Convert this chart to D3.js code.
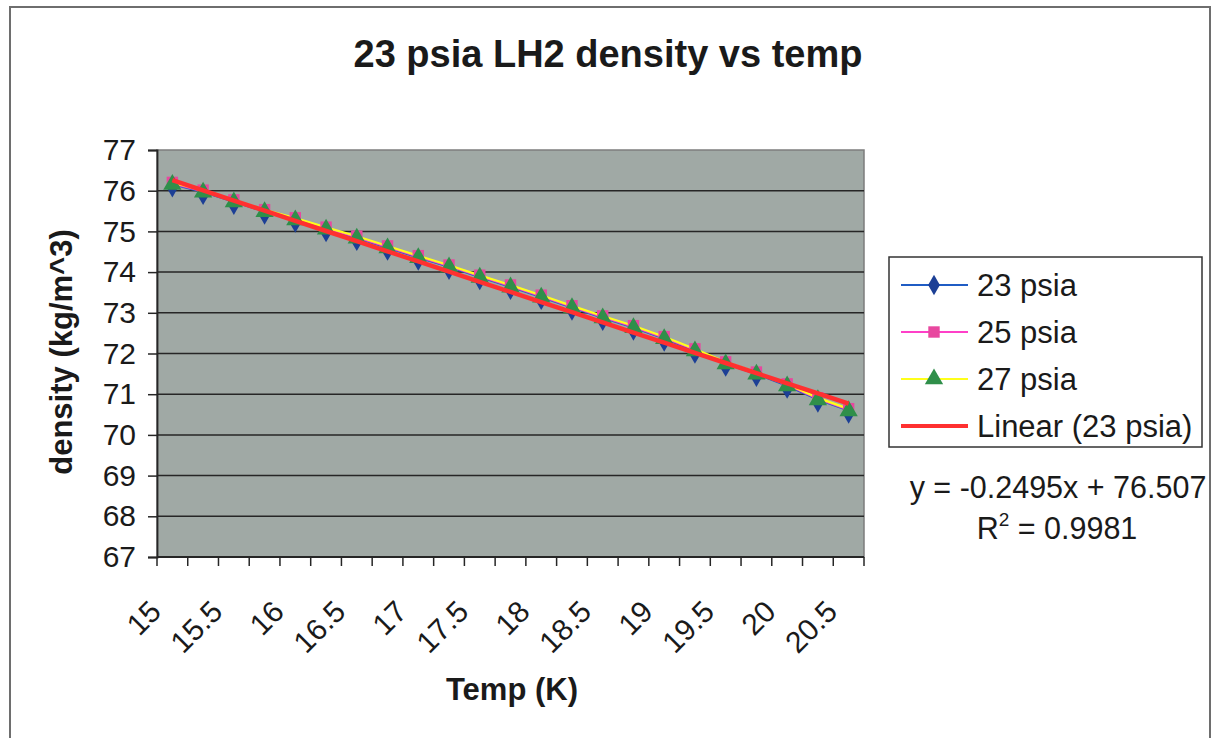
<!DOCTYPE html>
<html>
<head>
<meta charset="utf-8">
<script src="https://cdn.jsdelivr.net/npm/d3@7"></script>
<style>
  html, body { margin: 0; padding: 0; background: #fff; }
  svg { display: block; font-family: "Liberation Sans", Arial, sans-serif; }
</style>
</head>
<body>
<svg id="chart" width="1216" height="738"></svg>
<script>
// Temperatures (K) on the category axis
const temps = [15, 15.25, 15.5, 15.75, 16, 16.25, 16.5, 16.75, 17, 17.25, 17.5, 17.75,
               18, 18.25, 18.5, 18.75, 19, 19.25, 19.5, 19.75, 20, 20.25, 20.5];
// Tick labels shown along the x axis
const xTickLabels = ["15", "15.5", "16", "16.5", "17", "17.5", "18", "18.5", "19", "19.5", "20", "20.5"];
// Density (kg/m^3) at each temperature
const psia23 = [76.16, 75.97, 75.73, 75.49, 75.29, 75.06, 74.84, 74.60, 74.36, 74.13, 73.88, 73.64,
                73.39, 73.13, 72.88, 72.64, 72.37, 72.07, 71.75, 71.50, 71.21, 70.87, 70.60];
const psia25 = [76.18, 75.99, 75.75, 75.51, 75.31, 75.08, 74.86, 74.62, 74.38, 74.15, 73.90, 73.66,
                73.41, 73.15, 72.90, 72.66, 72.39, 72.09, 71.77, 71.52, 71.23, 70.89, 70.62];
const psia27 = [76.20, 76.01, 75.77, 75.53, 75.33, 75.10, 74.88, 74.64, 74.40, 74.17, 73.92, 73.68,
                73.43, 73.17, 72.92, 72.68, 72.41, 72.11, 71.79, 71.54, 71.25, 70.91, 70.64];
// Linear trendline of the 23 psia series (x = point index 1..n)
const trendSlope = -0.2495;
const trendIntercept = 76.507;
const trendR2 = 0.9981;
const yTicks = [67, 68, 69, 70, 71, 72, 73, 74, 75, 76, 77];

const seriesNames = ["23 psia", "25 psia", "27 psia"];
const seriesValues = [psia23, psia25, psia27];

const svg = d3.select("#chart");

// outer chart frame
svg.append("rect").attr("x", 10).attr("y", 7).attr("width", 1200).attr("height", 740)
  .attr("fill", "#fff").attr("stroke", "#6e6e6e").attr("stroke-width", 2);

const plot = { left: 157, right: 864, top: 150, bottom: 557 };

const x = d3.scaleBand().domain(temps).range([plot.left, plot.right]).padding(0);
const cx = t => x(t) + x.bandwidth() / 2;
const y = d3.scaleLinear().domain([67, 77]).range([plot.bottom, plot.top]);

// plot area
svg.append("rect").attr("x", plot.left).attr("y", plot.top)
  .attr("width", plot.right - plot.left).attr("height", plot.bottom - plot.top)
  .attr("fill", "#a0a9a5").attr("stroke", "#7d7d7d").attr("stroke-width", 1.5);

// horizontal gridlines
svg.append("g").selectAll("line").data(yTicks.slice(1, -1)).join("line")
  .attr("x1", plot.left).attr("x2", plot.right)
  .attr("y1", d => y(d)).attr("y2", d => y(d))
  .attr("stroke", "#262626").attr("stroke-width", 1.5);

// y axis
const yAxis = svg.append("g").attr("transform", `translate(${plot.left},0)`)
  .call(d3.axisLeft(y).tickValues(yTicks).tickSize(9).tickPadding(12).tickFormat(d3.format("d")));
yAxis.select(".domain").attr("stroke", "#262626").attr("stroke-width", 1.8);
yAxis.selectAll(".tick line").attr("stroke", "#262626").attr("stroke-width", 1.5);
yAxis.selectAll(".tick text").attr("font-size", 30).attr("fill", "#1a1a1a")
  .attr("font-family", "Liberation Sans, Arial, sans-serif");

// x axis line and category boundary ticks
const boundaries = temps.map(t => x(t)).concat([plot.right]);
svg.append("line").attr("x1", plot.left).attr("x2", plot.right)
  .attr("y1", plot.bottom).attr("y2", plot.bottom)
  .attr("stroke", "#262626").attr("stroke-width", 1.8);
svg.append("g").selectAll("line").data(boundaries).join("line")
  .attr("x1", d => d).attr("x2", d => d)
  .attr("y1", plot.bottom).attr("y2", plot.bottom + 9)
  .attr("stroke", "#262626").attr("stroke-width", 1.5);

// rotated x tick labels
svg.append("g").selectAll("text").data(temps.filter(t => xTickLabels.includes(String(t)))).join("text")
  .attr("transform", t => `translate(${cx(t) - 17},${plot.bottom + 49}) rotate(-45)`)
  .attr("text-anchor", "end").attr("dominant-baseline", "central")
  .attr("font-size", 30).attr("fill", "#1a1a1a")
  .text(t => String(t));

// series lines
const colors = {
  line: ["#1f5cc4", "#ff40c8", "#ffff1a"],
  marker: ["#1c3f95", "#e8479f", "#2f8f4a"]
};
seriesValues.forEach((vals, s) => {
  svg.append("path")
    .datum(vals)
    .attr("fill", "none").attr("stroke", colors.line[s]).attr("stroke-width", 2.2)
    .attr("d", d3.line().x((d, i) => cx(temps[i])).y(d => y(d)));
});

// markers: diamond, square, triangle
const markerShapes = [
  d3.symbol().type(d3.symbolDiamond).size(120),
  d3.symbol().type(d3.symbolSquare).size(130),
  d3.symbol().type(d3.symbolTriangle).size(145)
];
const markerOffset = [3, -1, 2];
seriesValues.forEach((vals, s) => {
  svg.append("g").selectAll("path").data(vals).join("path")
    .attr("transform", (d, i) => `translate(${cx(temps[i])},${y(d) + markerOffset[s]})`)
    .attr("d", markerShapes[s]())
    .attr("fill", colors.marker[s]);
});

// trendline on top
const trendIdx = d3.range(1, temps.length + 1);
svg.append("path").datum(trendIdx)
  .attr("fill", "none").attr("stroke", "#ff3030").attr("stroke-width", 4.5)
  .attr("d", d3.line().x(i => cx(temps[i - 1])).y(i => y(trendSlope * i + trendIntercept)));

// title
svg.append("text").attr("x", 608).attr("y", 67).attr("text-anchor", "middle")
  .attr("font-size", 38).attr("font-weight", "bold").attr("fill", "#1a1a1a")
  .text("23 psia LH2 density vs temp");

// axis titles
svg.append("text").attr("transform", "translate(72,352) rotate(-90)").attr("text-anchor", "middle")
  .attr("font-size", 31).attr("font-weight", "bold").attr("fill", "#1a1a1a")
  .text("density (kg/m^3)");
svg.append("text").attr("x", 512).attr("y", 700).attr("text-anchor", "middle")
  .attr("font-size", 31).attr("font-weight", "bold").attr("fill", "#1a1a1a")
  .text("Temp (K)");

// legend
const legend = svg.append("g");
legend.append("rect").attr("x", 889).attr("y", 257).attr("width", 313).attr("height", 190)
  .attr("fill", "#fff").attr("stroke", "#333").attr("stroke-width", 1.5);
const legendRows = [285, 332, 379, 426];
seriesNames.forEach((name, s) => {
  const ly = legendRows[s];
  legend.append("line").attr("x1", 901).attr("x2", 968).attr("y1", ly).attr("y2", ly)
    .attr("stroke", colors.line[s]).attr("stroke-width", 2.2);
  legend.append("path").attr("transform", `translate(934,${ly})`)
    .attr("d", markerShapes[s]()).attr("fill", colors.marker[s]);
  legend.append("text").attr("x", 977).attr("y", ly).attr("dominant-baseline", "central")
    .attr("font-size", 31).attr("fill", "#1a1a1a").text(name);
});
legend.append("line").attr("x1", 901).attr("x2", 968).attr("y1", legendRows[3]).attr("y2", legendRows[3])
  .attr("stroke", "#ff3030").attr("stroke-width", 4);
legend.append("text").attr("x", 977).attr("y", legendRows[3]).attr("dominant-baseline", "central")
  .attr("font-size", 31).attr("fill", "#1a1a1a").text("Linear (23 psia)");

// trendline equation
svg.append("text").attr("x", 1058).attr("y", 498).attr("text-anchor", "middle")
  .attr("font-size", 30.5).attr("fill", "#1a1a1a")
  .text(`y = ${trendSlope}x + ${trendIntercept}`);
const r2 = svg.append("text").attr("x", 1057).attr("y", 539).attr("text-anchor", "middle")
  .attr("font-size", 30.5).attr("fill", "#1a1a1a");
r2.append("tspan").text("R");
r2.append("tspan").attr("font-size", 19).attr("dy", -13).text("2");
r2.append("tspan").attr("dy", 13).text(` = ${trendR2}`);
</script>
</body>
</html>
